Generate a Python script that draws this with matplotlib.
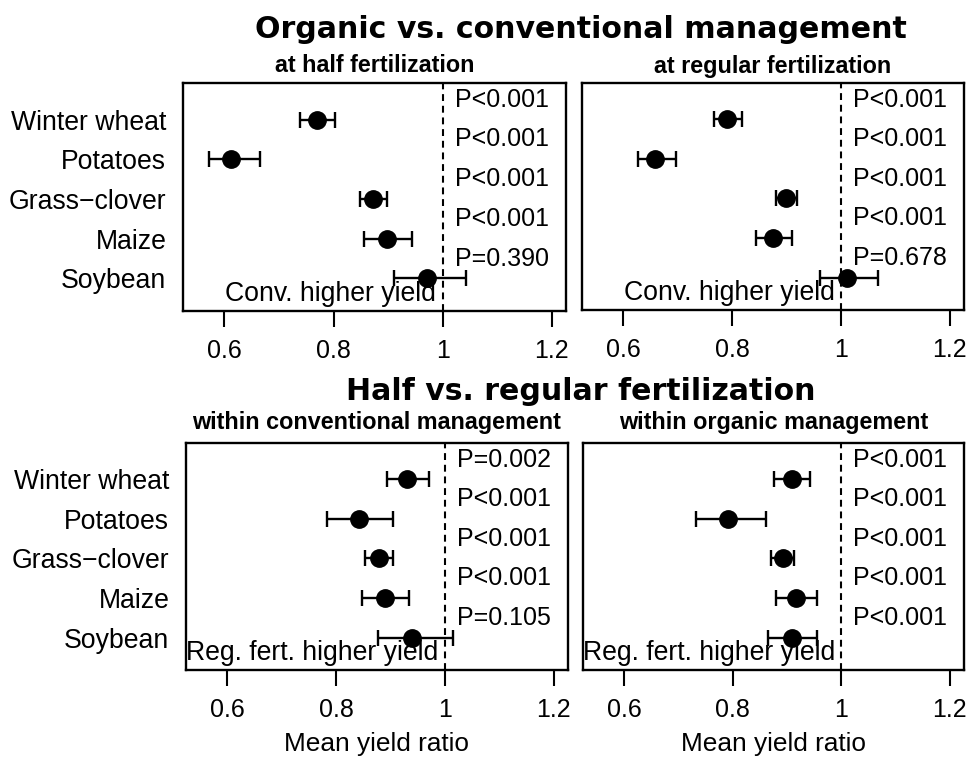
import matplotlib
matplotlib.use("Agg")
import matplotlib.pyplot as plt

crops = ["Winter wheat", "Potatoes", "Grass\u2212clover", "Maize", "Soybean"]

# Panel 1: organic vs conventional at half fertilization
half_mean = [0.770, 0.612, 0.873, 0.898, 0.972]
half_lo = [0.739, 0.571, 0.848, 0.856, 0.910]
half_hi = [0.802, 0.665, 0.897, 0.943, 1.042]
half_p = ["P<0.001", "P<0.001", "P<0.001", "P<0.001", "P=0.390"]

# Panel 2: organic vs conventional at regular fertilization
reg_mean = [0.790, 0.659, 0.899, 0.875, 1.011]
reg_lo = [0.767, 0.626, 0.880, 0.844, 0.962]
reg_hi = [0.818, 0.697, 0.919, 0.910, 1.068]
reg_p = ["P<0.001", "P<0.001", "P<0.001", "P<0.001", "P=0.678"]

# Panel 3: half vs regular within conventional
conv_mean = [0.931, 0.842, 0.879, 0.890, 0.940]
conv_lo = [0.894, 0.783, 0.853, 0.847, 0.877]
conv_hi = [0.971, 0.905, 0.904, 0.934, 1.014]
conv_p = ["P=0.002", "P<0.001", "P<0.001", "P<0.001", "P=0.105"]

# Panel 4: half vs regular within organic
org_mean = [0.909, 0.792, 0.892, 0.917, 0.909]
org_lo = [0.875, 0.733, 0.871, 0.880, 0.864]
org_hi = [0.942, 0.861, 0.913, 0.956, 0.956]
org_p = ["P<0.001", "P<0.001", "P<0.001", "P<0.001", "P<0.001"]

xticks = [0.6, 0.8, 1.0, 1.2]
xticklabels = ["0.6", "0.8", "1", "1.2"]

W, H = 966, 757
fig = plt.figure(figsize=(W / 100, H / 100), dpi=100)
SANS = ["Liberation Sans", "DejaVu Sans"]
FS = 18
FS_BIG = 19.2


def px_axes(x0, y0, x1, y1):
    return fig.add_axes([x0 / W, 1 - y1 / H, (x1 - x0) / W, (y1 - y0) / H])


def panel(ax, mean, lo, hi, pvals, subtitle, sub_y, note, ylabels, xlabel):
    n = len(mean)
    ys = list(range(n, 0, -1))
    xerr = [[m - l for m, l in zip(mean, lo)], [h - m for m, h in zip(mean, hi)]]
    ax.axvline(1.0, color="black", lw=1.5, ls=(0, (3.3, 2.3)), zorder=1)
    ax.errorbar(mean, ys, xerr=xerr, fmt="o", color="black", ms=12.5,
                elinewidth=1.7, capsize=5.5, capthick=1.7, zorder=3)
    for y, p in zip(ys, pvals):
        ax.text(1.022, y + 0.5, p, ha="left", va="center", fontsize=FS,
                family=SANS)
    ax.text(0.988, 0.6, note, ha="right", va="center", fontsize=FS_BIG,
            family=SANS)
    ax.set_xlim(0.524, 1.226)
    ax.set_ylim(0.18, 5.92)
    for s in ax.spines.values():
        s.set_linewidth(1.7)
    ax.set_xticks(xticks)
    ax.set_xticklabels(xticklabels, fontsize=FS, family=SANS)
    ax.tick_params(axis="x", length=11.5, width=1.5, pad=9, color="black")
    ax.set_yticks(ys)
    if ylabels:
        ax.set_yticklabels(crops, fontsize=FS_BIG, family=SANS)
        ax.tick_params(axis="y", length=0, pad=12)
    else:
        ax.set_yticklabels([])
        ax.tick_params(axis="y", length=0)
    bb = ax.get_position()
    fig.text((bb.x0 + bb.x1) / 2, 1 - sub_y / H, subtitle, ha="center",
             va="center", fontsize=16.8, fontweight="bold", family=SANS)
    if xlabel:
        ax.set_xlabel("Mean yield ratio", fontsize=18.9, family=SANS,
                      labelpad=7)


ax1 = px_axes(183, 83, 566, 311)
ax2 = px_axes(582, 83, 964, 310)
ax3 = px_axes(186, 443, 568, 670)
ax4 = px_axes(583, 443, 964, 670)

panel(ax1, half_mean, half_lo, half_hi, half_p, "at half fertilization", 66,
      "Conv. higher yield", True, False)
panel(ax2, reg_mean, reg_lo, reg_hi, reg_p, "at regular fertilization", 66,
      "Conv. higher yield", False, False)
panel(ax3, conv_mean, conv_lo, conv_hi, conv_p, "within conventional management",
      423, "Reg. fert. higher yield", True, True)
panel(ax4, org_mean, org_lo, org_hi, org_p, "within organic management", 423,
      "Reg. fert. higher yield", False, True)

fig.text(581 / W, 1 - 29 / H, "Organic vs. conventional management",
         ha="center", va="center", fontsize=21.6, fontweight="bold",
         family="DejaVu Sans")
fig.text(581 / W, 1 - 391 / H, "Half vs. regular fertilization",
         ha="center", va="center", fontsize=21.6, fontweight="bold",
         family="DejaVu Sans")

fig.savefig("out.png", dpi=100)
